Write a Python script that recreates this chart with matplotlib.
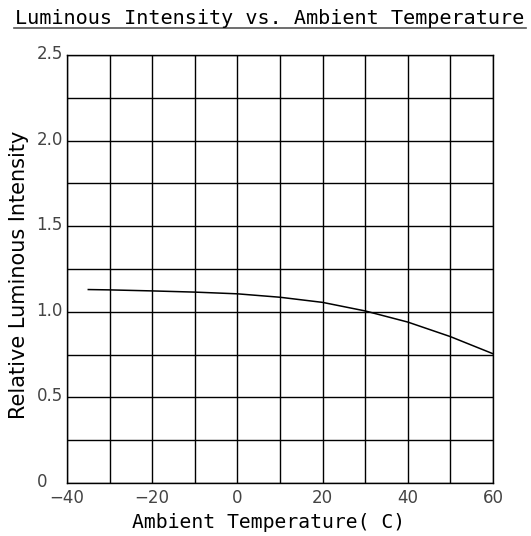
import matplotlib.pyplot as plt
from matplotlib.lines import Line2D
from matplotlib.transforms import ScaledTranslation

# data
temp = [-35, -30, -20, -10, 0, 10, 20, 30, 40, 50, 60]
rel_int = [1.13, 1.128, 1.122, 1.115, 1.105, 1.085, 1.055, 1.005, 0.94, 0.855, 0.755]

xticks = [-40, -20, 0, 20, 40, 60]
yticks = [0, 0.5, 1.0, 1.5, 2.0, 2.5]
ytick_labels = ['0', '0.5', '1.0', '1.5', '2.0', '2.5']

W, H = 531, 536
fig = plt.figure(figsize=(W / 100, H / 100), dpi=100)
ax = fig.add_axes([67 / W, 1 - 483 / H, (493 - 67) / W, (483 - 55) / H])

ax.plot(temp, rel_int, color='black', lw=1.1)

ax.set_xlim(-40, 60)
ax.set_ylim(0, 2.5)
ax.set_xticks(xticks)
ax.set_xticks(range(-40, 61, 10), minor=True)
ax.set_yticks(yticks)
ax.set_yticks([i * 0.25 for i in range(11)], minor=True)
ax.set_yticklabels(ytick_labels)
ax.grid(True, which='both', color='black', lw=1)
ax.tick_params(which='both', length=0)
ax.tick_params(axis='x', pad=4)
ax.tick_params(axis='y', pad=22)
for lab in ax.get_xticklabels() + ax.get_yticklabels():
    lab.set_family('DejaVu Sans')
    lab.set_fontsize(12)
    lab.set_color('#444444')
# y labels sit left aligned, a little above their grid line
up = ScaledTranslation(0, 3 / 100, fig.dpi_scale_trans)
for lab in ax.get_yticklabels():
    lab.set_horizontalalignment('left')
    lab.set_transform(lab.get_transform() + up)
for s in ax.spines.values():
    s.set_color('black')
    s.set_linewidth(1)

ax.set_xlabel('Ambient Temperature( C)', family='DejaVu Sans Mono', fontsize=14.2)
ax.xaxis.set_label_coords((269 - 67) / 426, -(523 - 483) / 428)
ax.xaxis.label.set_va('center')
ax.set_ylabel('Relative Luminous Intensity', family='DejaVu Sans', fontsize=15)
ax.yaxis.set_label_coords(-(67 - 19) / 426, (483 - 275) / 428)
ax.yaxis.label.set_va('center')

fig.text(270 / W, 1 - 24 / H, 'Luminous Intensity vs. Ambient Temperature',
         family='DejaVu Sans Mono', fontsize=14.5, ha='center', va='baseline')
fig.add_artist(Line2D([14 / W, 526 / W], [1 - 28 / H, 1 - 28 / H],
                      color='#555555', lw=1.2, transform=fig.transFigure))

fig.savefig('out.png', dpi=100)
